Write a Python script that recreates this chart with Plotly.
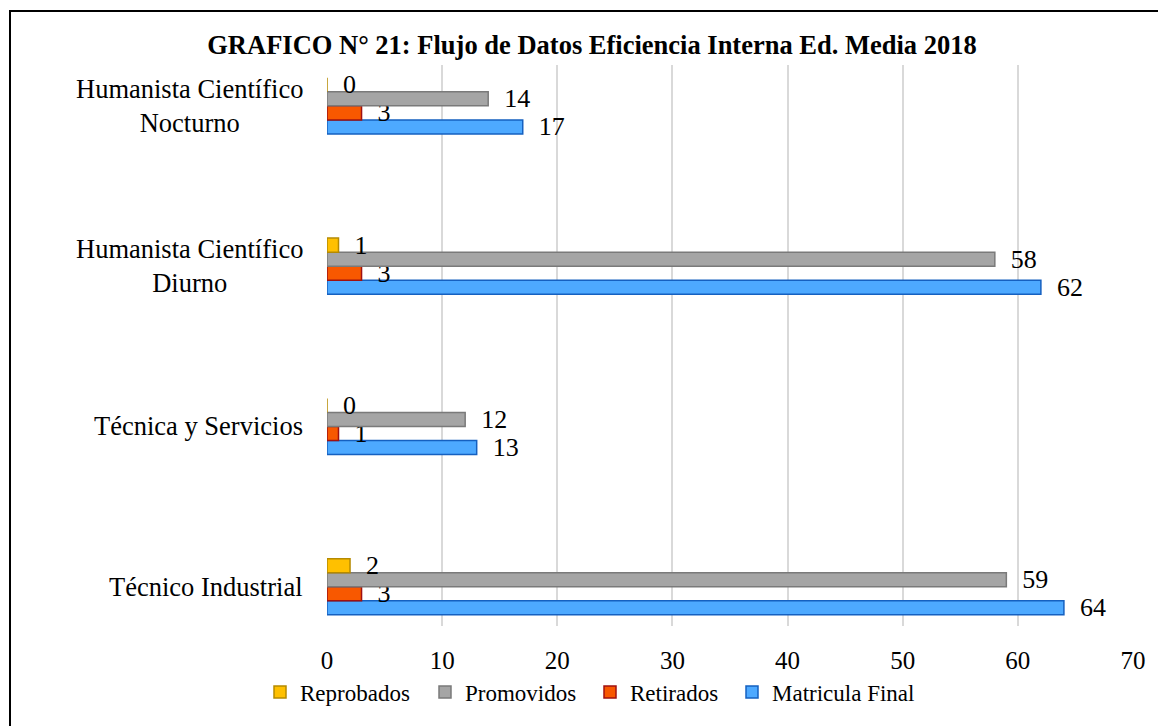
import plotly.graph_objects as go

# datos del grafico
categorias = ["Técnico Industrial", "Técnica y Servicios",
              "Humanista Científico<br>Diurno", "Humanista Científico<br>Nocturno"]
reprobados = [2, 0, 1, 0]
promovidos = [59, 12, 58, 14]
retirados = [3, 1, 3, 3]
matricula_final = [64, 13, 62, 17]
x_ticks = [0, 10, 20, 30, 40, 50, 60, 70]

FONT = "Liberation Serif"
W, H = 1158, 718   # la pagina agrega 8px de margen
pos = list(range(len(categorias)))
pad = "\u00a0\u00a0"

# nombre, valores, relleno, borde, leyenda, x de la leyenda (px)
series = [
    ("Matricula Final", matricula_final, "#4DA9FF", "#1560C0", "legend4", 724),
    ("Retirados", retirados, "#F85800", "#A01010", "legend3", 582),
    ("Promovidos", promovidos, "#A5A5A5", "#7A7A7A", "legend2", 417),
    ("Reprobados", reprobados, "#FFC000", "#B58A00", "legend", 252),
]

fig = go.Figure()
legends = {}
for nombre, vals, color, borde, leg, lx in series:
    fig.add_trace(go.Bar(
        y=pos, x=vals, orientation="h", name=nombre, legend=leg,
        marker=dict(color=color, line=dict(color=borde, width=1.5)),
        text=[pad + str(v) for v in vals], textposition="outside",
        textfont=dict(family=FONT, size=26, color="black"),
        constraintext="none", cliponaxis=False,
    ))
    legends[leg] = dict(orientation="h", xref="container", yref="container",
                        x=lx / W, xanchor="left", y=1 - 684 / H, yanchor="middle",
                        font=dict(family=FONT, size=23, color="black"),
                        bgcolor="rgba(0,0,0,0)")

# etiquetas de categorias centradas
for p, c in zip(pos, categorias):
    fig.add_annotation(x=0, xref="paper", y=p, yref="y", text=c,
                       showarrow=False, xanchor="right", align="center",
                       xshift=-22, font=dict(family=FONT, size=26.5, color="black"))

# marco
fig.add_shape(type="rect", xref="paper", yref="paper",
              x0=-0.3933, x1=1.06, y0=-0.25, y1=1.0963,
              line=dict(color="black", width=2))

fig.update_layout(
    width=W, height=H,
    margin=dict(l=319, r=33, t=57, b=100, autoexpand=False),
    barmode="group", bargap=0.65, bargroupgap=0,
    plot_bgcolor="white", paper_bgcolor="white",
    font=dict(family=FONT, size=22, color="black"),
    title=dict(text="<b>GRAFICO N° 21: Flujo de Datos Eficiencia Interna Ed. Media 2018</b>",
               x=584 / W, xanchor="center", y=1 - 37 / H, yanchor="middle",
               font=dict(family=FONT, size=26.5, color="black")),
    showlegend=True,
    **legends,
)
fig.update_xaxes(range=[0, 70], tickvals=x_ticks, showgrid=True,
                 gridcolor="#D9D9D9", gridwidth=1.5, zeroline=False,
                 showline=False, ticks="", ticklabelstandoff=17,
                 tickfont=dict(family=FONT, size=25))
fig.update_yaxes(range=[-0.245, 3.255], tickvals=pos, showticklabels=False,
                 showgrid=False, zeroline=False, showline=False)

fig.write_html("out.html")
